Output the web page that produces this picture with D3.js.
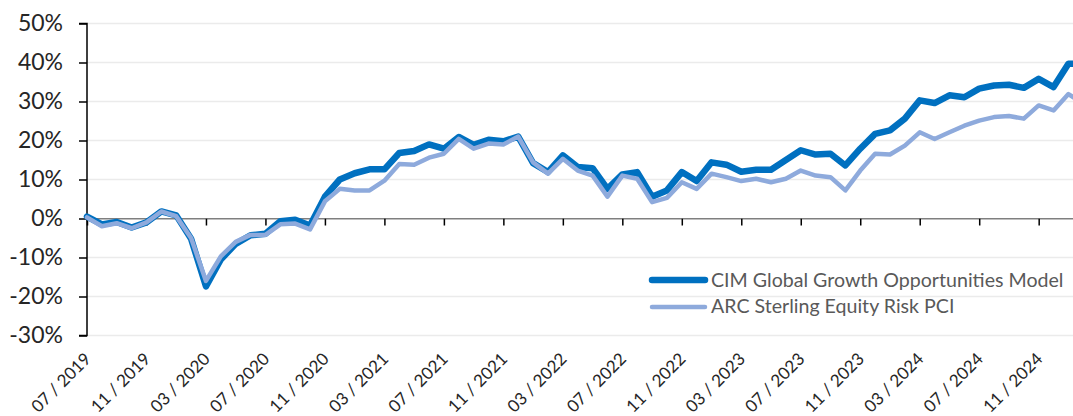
<!DOCTYPE html>
<html>
<head>
<meta charset="utf-8">
<script src="https://cdn.jsdelivr.net/npm/d3@7"></script>
<style>
  html, body { margin: 0; padding: 0; background: #fff; }
  svg { display: block; }
</style>
</head>
<body>
<svg id="chart" width="1073" height="416"></svg>
<script>
// ---- data ----
const months = [
  "07/2019","08/2019","09/2019","10/2019","11/2019","12/2019",
  "01/2020","02/2020","03/2020","04/2020","05/2020","06/2020","07/2020","08/2020","09/2020","10/2020","11/2020","12/2020",
  "01/2021","02/2021","03/2021","04/2021","05/2021","06/2021","07/2021","08/2021","09/2021","10/2021","11/2021","12/2021",
  "01/2022","02/2022","03/2022","04/2022","05/2022","06/2022","07/2022","08/2022","09/2022","10/2022","11/2022","12/2022",
  "01/2023","02/2023","03/2023","04/2023","05/2023","06/2023","07/2023","08/2023","09/2023","10/2023","11/2023","12/2023",
  "01/2024","02/2024","03/2024","04/2024","05/2024","06/2024","07/2024","08/2024","09/2024","10/2024","11/2024","12/2024",
  "01/2025","02/2025"
];
const cimValues = [
  0.5, -1.5, -0.9, -2.3, -1.0, 1.8,
  0.8, -5.2, -17.4, -10.5, -6.5, -4.3, -3.9, -0.7, -0.3, -1.8, 5.6, 10.0,
  11.6, 12.6, 12.6, 16.8, 17.3, 19.0, 17.9, 20.9, 18.9, 20.2, 19.8, 21.0,
  14.2, 11.9, 16.2, 13.2, 12.9, 7.6, 11.3, 11.9, 5.6, 7.2, 11.9, 9.6,
  14.4, 13.8, 12.0, 12.5, 12.5, 15.0, 17.5, 16.4, 16.6, 13.6, 17.9, 21.7,
  22.6, 25.6, 30.3, 29.6, 31.6, 31.1, 33.3, 34.1, 34.3, 33.5, 35.8, 33.7,
  39.7, 39.6
];
const arcValues = [
  0.3, -2.0, -1.2, -2.5, -1.0, 1.8,
  0.6, -5.0, -16.0, -9.7, -6.0, -4.2, -4.2, -1.5, -1.3, -2.8, 4.4, 7.6,
  7.2, 7.2, 9.7, 14.0, 13.8, 15.6, 16.6, 20.4, 17.9, 19.2, 19.0, 21.0,
  14.4, 11.5, 15.3, 12.3, 11.0, 5.6, 11.0, 10.2, 4.2, 5.3, 9.3, 7.6,
  11.5, 10.6, 9.6, 10.2, 9.3, 10.2, 12.3, 11.0, 10.6, 7.2, 12.3, 16.6,
  16.4, 18.7, 22.1, 20.4, 22.1, 23.8, 25.1, 26.0, 26.3, 25.6, 29.0, 27.7,
  31.9, 29.5
];
const seriesNames = ["CIM Global Growth Opportunities Model", "ARC Sterling Equity Risk PCI"];
const yTicks = [-30, -20, -10, 0, 10, 20, 30, 40, 50];
const xTickLabels = ["07 / 2019","11 / 2019","03 / 2020","07 / 2020","11 / 2020","03 / 2021","07 / 2021","11 / 2021",
  "03 / 2022","07 / 2022","11 / 2022","03 / 2023","07 / 2023","11 / 2023","03 / 2024","07 / 2024","11 / 2024"];
const xTickMonths = ["07/2019","11/2019","03/2020","07/2020","11/2020","03/2021","07/2021","11/2021",
  "03/2022","07/2022","11/2022","03/2023","07/2023","11/2023","03/2024","07/2024","11/2024"];

// ---- layout ----
const W = 1073, H = 416;
const left = 87, right = 1073;
const monthStep = 14.87;
const svg = d3.select("#chart");
const font = "Lato, 'Open Sans', sans-serif";

const x = d3.scalePoint().domain(months).range([left, left + monthStep * (months.length - 1)]);
const y = d3.scaleLinear().domain([-30, 50]).range([335.5, 23.5]);

svg.append("defs").append("clipPath").attr("id", "clip")
  .append("rect").attr("x", 0).attr("y", 0).attr("width", right).attr("height", H);

// gridlines
svg.append("g").selectAll("line").data(yTicks.filter(d => d !== 0)).join("line")
  .attr("x1", left).attr("x2", right)
  .attr("y1", d => y(d)).attr("y2", d => y(d))
  .attr("stroke", "#ebebeb").attr("stroke-width", 1.5);

// y axis
const yAxis = d3.axisLeft(y).tickValues(yTicks).tickFormat(d => d + "%").tickSize(8).tickPadding(16);
const gy = svg.append("g").attr("transform", `translate(${left},0)`).call(yAxis);
gy.select(".domain").attr("stroke", "#000").attr("stroke-width", 1.5).attr("d", `M-8,${y(-30)}H0V${y(50)}H-8`);
gy.selectAll(".tick line").attr("stroke", "#000").attr("stroke-width", 1.5);
gy.selectAll(".tick text").attr("font-family", font).attr("font-size", 23).attr("fill", "#262626");

// x axis at 0
const xAxis = d3.axisBottom(x).tickValues(xTickMonths).tickSize(7).tickFormat("");
const gx = svg.append("g").attr("transform", `translate(0,${y(0)})`).attr("clip-path", "url(#clip)").call(xAxis);
gx.select(".domain").attr("stroke", "#000").attr("stroke-width", 1.5).attr("d", `M${left},0H${right}`);
gx.selectAll(".tick line").attr("stroke", "#000").attr("stroke-width", 1.5);

// x labels
svg.append("g").selectAll("text").data(xTickMonths).join("text")
  .attr("transform", (d) => `translate(${x(d) + 5},360) rotate(-45)`)
  .attr("text-anchor", "end")
  .attr("font-family", font).attr("font-size", 17).attr("fill", "#262626")
  .text((d, i) => xTickLabels[i]);

// lines
const line = d3.line().x((d, i) => x(months[i])).y(d => y(d));
const plot = svg.append("g").attr("clip-path", "url(#clip)");
plot.append("path").datum(cimValues).attr("d", line)
  .attr("fill", "none").attr("stroke", "#0070c0").attr("stroke-width", 6.5)
  .attr("stroke-linejoin", "round").attr("stroke-linecap", "round");
plot.append("path").datum(arcValues).attr("d", line)
  .attr("fill", "none").attr("stroke", "#8eaadc").attr("stroke-width", 4.5)
  .attr("stroke-linejoin", "round").attr("stroke-linecap", "round");

// legend
const legend = svg.append("g");
const legItems = [
  {name: seriesNames[0], color: "#0070c0", w: 6.5, y: 280, ty: 286.7},
  {name: seriesNames[1], color: "#8eaadc", w: 4.5, y: 307, ty: 313.3}
];
legItems.forEach(it => {
  legend.append("line").attr("x1", 652).attr("x2", 705).attr("y1", it.y).attr("y2", it.y)
    .attr("stroke", it.color).attr("stroke-width", it.w).attr("stroke-linecap", "round");
  legend.append("text").attr("x", 711).attr("y", it.ty)
    .attr("font-family", font).attr("font-size", 19.6).attr("fill", "#595959")
    .text(it.name);
});
</script>
</body>
</html>
